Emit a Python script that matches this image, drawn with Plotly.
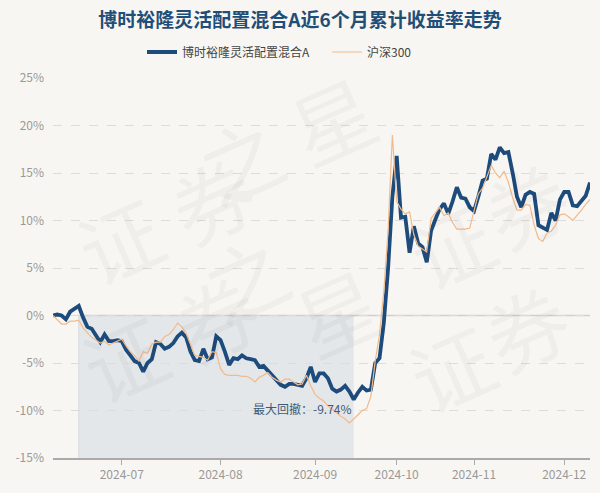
import pandas as pd
import plotly.graph_objects as go

# ---- data ----
start_date = "2024-06-06"
end_date = "2024-12-10"
holidays = ["2024-06-10", "2024-09-16", "2024-09-17", "2024-10-01", "2024-10-02",
            "2024-10-03", "2024-10-04", "2024-10-07"]
dates = [d.strftime("%Y-%m-%d") for d in pd.bdate_range(start_date, end_date)
         if d.strftime("%Y-%m-%d") not in holidays]

fund_name = "博时裕隆灵活配置混合A"
index_name = "沪深300"

fund_returns = [
    0.0, 0.1, 0.0, -0.4, 0.4, 0.7, 1.0, -0.2, -1.2, -1.4,
    -2.2, -2.8, -2.0, -2.7, -2.7, -2.6, -2.7, -3.6, -4.2, -4.8,
    -5.0, -5.9, -5.0, -4.6, -2.8, -3.0, -3.5, -3.3, -2.9, -2.2,
    -1.8, -2.3, -3.8, -4.7, -4.8, -3.5, -4.6, -4.4, -2.2, -2.6,
    -3.8, -5.2, -4.5, -4.6, -4.2, -4.5, -4.6, -4.7, -5.4, -5.3,
    -5.8, -6.3, -6.9, -7.3, -7.5, -7.2, -7.2, -7.3, -7.4, -6.6,
    -5.4, -7.0, -6.1, -6.1, -6.6, -7.7, -8.0, -7.8, -7.4, -8.0,
    -8.84, -8.1, -7.5, -7.9, -7.8, -5.0, -4.5, -0.8, 5.0, 12.5,
    16.8, 10.3, 10.4, 6.6, 9.4, 7.6, 7.2, 5.6, 8.9, 10.1,
    11.2, 11.8, 10.7, 12.0, 13.5, 12.4, 12.3, 11.4, 11.0, 12.5,
    14.2, 14.4, 17.0, 16.4, 17.7, 17.1, 17.2, 15.0, 12.5, 11.4,
    12.7, 13.0, 12.8, 9.5, 9.3, 9.0, 10.8, 10.0, 12.2, 13.0,
    13.0, 11.6, 11.5, 12.1, 12.6, 14.0,
]

index_returns = [
    0.0, -0.5, -0.9, -0.9, -0.6, -0.6, -0.5, -1.3, -1.8, -2.3,
    -2.6, -2.9, -2.7, -3.1, -2.9, -2.7, -2.5, -3.2, -3.8, -4.2,
    -4.8, -3.8, -4.0, -3.0, -2.8, -2.8, -2.2, -2.0, -1.5, -0.8,
    -1.2, -1.9, -3.0, -4.2, -4.3, -4.4, -4.7, -3.8, -3.9, -5.6,
    -6.2, -6.3, -6.3, -6.3, -6.4, -6.4, -6.6, -7.0, -6.5, -6.3,
    -6.0, -6.5, -6.8, -7.0, -6.7, -6.7, -7.0, -7.3, -7.2, -6.3,
    -7.4, -8.3, -8.7, -9.0, -9.5, -9.9, -10.2, -10.6, -10.9, -11.3,
    -10.9, -10.4, -10.0, -9.8, -8.5, -4.8, -2.0, 2.5, 9.0, 19.0,
    12.0, 11.2, 10.7, 10.9, 8.5, 7.3, 7.0, 6.7, 10.2, 10.8,
    11.4, 10.5, 10.8, 9.8, 9.1, 9.1, 9.1, 9.2, 11.0, 12.8,
    13.4, 14.5, 15.8, 15.0, 14.5, 15.2, 14.0, 12.4, 11.1, 11.1,
    11.7, 11.6, 9.5, 8.1, 7.8, 8.7, 8.9, 9.5, 10.6, 10.7,
    10.4, 10.0, 10.5, 11.1, 11.7, 12.2,
]

max_drawdown = -9.74
tick_dates = ["2024-07-01", "2024-08-01", "2024-09-02", "2024-10-08", "2024-11-01", "2024-12-02"]
tick_labels = ["2024-07", "2024-08", "2024-09", "2024-10", "2024-11", "2024-12"]
y_ticks = [-15, -10, -5, 0, 5, 10, 15, 20, 25]
y_tick_labels = [f"{v}%" for v in y_ticks]

assert len(dates) == len(fund_returns) == len(index_returns)

# ---- drawdown window (peak -> trough) from the fund series ----
best_dd, peak_i, trough_i, run_peak_i = 0.0, 0, 0, 0
for i, v in enumerate(fund_returns):
    if v > fund_returns[run_peak_i]:
        run_peak_i = i
    dd = (1 + v / 100) / (1 + fund_returns[run_peak_i] / 100) - 1
    if dd < best_dd:
        best_dd, peak_i, trough_i = dd, run_peak_i, i

FONT = "Noto Sans CJK SC"
BLUE = "#1d4b7c"
ORANGE = "#f2ba8a"
BG = "#f8f6f2"

W, H = 600, 493
ML, MR, MT, MB = 53, 10, 78, 35
PW, PH = W - ML - MR, H - MT - MB


def px_to_paper(px, py):
    return (px - ML) / PW, (H - MB - py) / PH


fig = go.Figure()
fig.add_trace(go.Scatter(x=dates, y=fund_returns, mode="lines", name=fund_name,
                         line=dict(color=BLUE, width=3.8)))
fig.add_trace(go.Scatter(x=dates, y=index_returns, mode="lines", name=index_name,
                         line=dict(color=ORANGE, width=1.2)))

# drawdown shading
fig.add_shape(type="rect", xref="x", yref="y", x0=peak_i, x1=trough_i,
              y0=y_ticks[0], y1=0, fillcolor="rgba(195,207,219,0.38)",
              line=dict(width=0), layer="below")
fig.add_shape(type="line", xref="x", yref="y", x0=peak_i, x1=len(dates) - 1,
              y0=0, y1=0, line=dict(color="#d0d0d0", width=1.5), layer="below")
fig.add_shape(type="line", xref="x", yref="y", x0=peak_i, x1=peak_i,
              y0=y_ticks[0], y1=0, line=dict(color="#d8dce0", width=1), layer="below")

fig.add_annotation(x=trough_i, y=max_drawdown, xref="x", yref="y",
                   text=f"最大回撤：{max_drawdown:.2f}%", showarrow=False,
                   xanchor="right", yanchor="middle",
                   font=dict(family=FONT, size=12, color="#3d5a78"))

# watermark (tiled, faint) - one glyph per annotation so partial tiles stay in frame
wm_glyphs = [
    ("证", 55, 165), ("券", 148, 125), ("之", 240, 85), ("星", 332, 45),
    ("证", 60, 430), ("券", 152, 390), ("之", 245, 350), ("星", 337, 310),
    ("证", 515, 170), ("券", 590, 130),
    ("证", 515, 440), ("券", 590, 400),
]
for ch, cx, cy in wm_glyphs:
    wx, wy = px_to_paper(cx, cy)
    fig.add_annotation(x=wx, y=wy, xref="paper", yref="paper", text=ch,
                       showarrow=False, textangle=-24,
                       font=dict(family=FONT, size=82, color="rgba(0,0,0,0.033)"))

lx, ly = px_to_paper(142, 52)
fig.update_layout(
    width=W, height=H,
    paper_bgcolor=BG, plot_bgcolor=BG,
    margin=dict(l=ML, r=MR, t=MT, b=MB, autoexpand=False),
    title=dict(text=f"<b>{fund_name}近6个月累计收益率走势</b>", x=0.5, xanchor="center",
               y=1 - 20 / H, yanchor="middle",
               font=dict(family=FONT, size=19, color="#1f4e79")),
    legend=dict(orientation="h", x=lx, xanchor="left", y=ly, yanchor="middle",
                font=dict(family=FONT, size=12, color="#444"), bgcolor="rgba(0,0,0,0)",
                itemwidth=30, entrywidth=140, entrywidthmode="pixels"),
    showlegend=True,
    font=dict(family=FONT),
)
fig.update_xaxes(type="category", range=[0, len(dates) - 1], tickmode="array",
                 tickvals=tick_dates, ticktext=tick_labels, showgrid=False,
                 showline=True, linecolor="#aaaaaa", linewidth=1.5,
                 ticks="outside", ticklen=5, tickcolor="#aaaaaa",
                 tickfont=dict(family=FONT, size=12, color="#999999"), automargin=False)
fig.update_yaxes(range=[y_ticks[0], y_ticks[-1]], tickmode="array", tickvals=y_ticks,
                 ticktext=y_tick_labels, showgrid=True, gridcolor="#dcdcdc",
                 griddash="dash", gridwidth=1, zeroline=False, ticklabelstandoff=8,
                 tickfont=dict(family=FONT, size=12, color="#999999"), automargin=False)

fig.write_html("out.html", config={"displayModeBar": False},
               post_script="document.body.style.margin='0';")
